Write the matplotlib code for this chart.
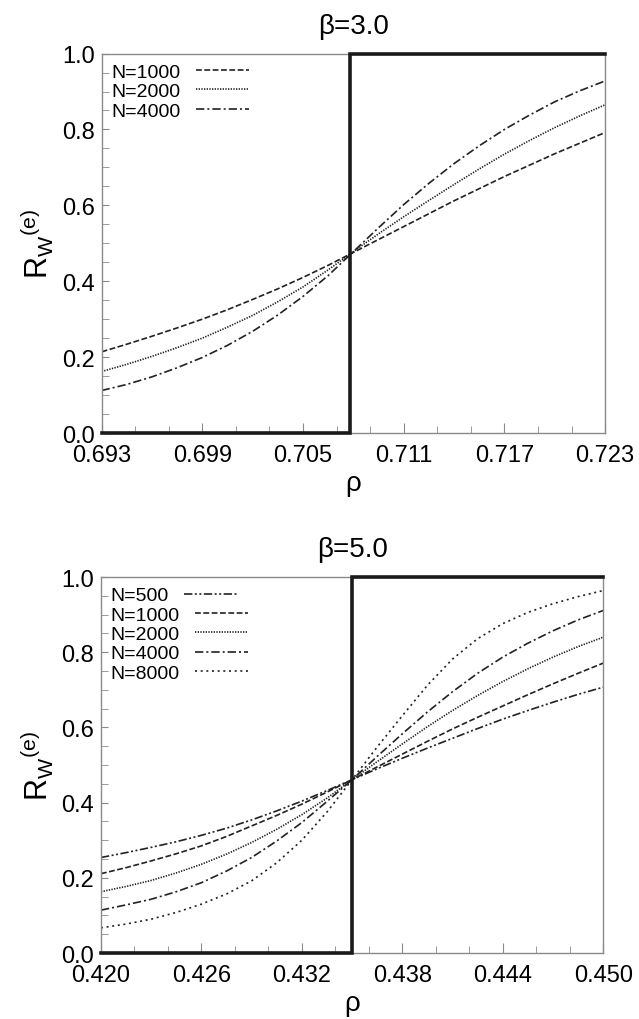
import matplotlib
matplotlib.use("Agg")
import matplotlib.pyplot as plt
from matplotlib.ticker import FixedLocator, MultipleLocator, FormatStrFormatter

plt.rcParams["font.family"] = ["Liberation Sans", "DejaVu Sans"]
plt.rcParams["mathtext.fontset"] = "custom"
plt.rcParams["mathtext.rm"] = "Liberation Sans"
plt.rcParams["mathtext.it"] = "Liberation Sans"

# ---- data ----
# beta = 3.0
rho_b3 = [0.693, 0.6945, 0.696, 0.6975, 0.699, 0.7005, 0.702, 0.7035, 0.705, 0.7065, 0.708,
          0.7095, 0.711, 0.7125, 0.714, 0.7155, 0.717, 0.7185, 0.720, 0.7215, 0.723]
r_b3_n1000 = [0.214, 0.234, 0.255, 0.277, 0.300, 0.325, 0.352, 0.380, 0.410, 0.442, 0.476,
              0.510, 0.544, 0.578, 0.612, 0.644, 0.676, 0.706, 0.736, 0.764, 0.792]
r_b3_n2000 = [0.162, 0.181, 0.202, 0.225, 0.250, 0.279, 0.310, 0.346, 0.385, 0.430, 0.478,
              0.525, 0.570, 0.613, 0.655, 0.696, 0.735, 0.771, 0.805, 0.836, 0.865]
r_b3_n4000 = [0.112, 0.128, 0.148, 0.172, 0.199, 0.231, 0.268, 0.311, 0.360, 0.415, 0.478,
              0.541, 0.602, 0.658, 0.710, 0.757, 0.800, 0.838, 0.873, 0.902, 0.928]
step_b3 = 0.7078
xticks_b3 = [0.693, 0.699, 0.705, 0.711, 0.717, 0.723]

# beta = 5.0
rho_b5 = [0.420, 0.4215, 0.423, 0.4245, 0.426, 0.4275, 0.429, 0.4305, 0.432, 0.4335, 0.435,
          0.4365, 0.438, 0.4395, 0.441, 0.4425, 0.444, 0.4455, 0.447, 0.4485, 0.450]
r_b5_n500 = [0.254, 0.267, 0.281, 0.296, 0.313, 0.332, 0.354, 0.378, 0.404, 0.432, 0.461,
             0.490, 0.518, 0.545, 0.571, 0.597, 0.622, 0.645, 0.667, 0.688, 0.707]
r_b5_n1000 = [0.211, 0.227, 0.245, 0.264, 0.285, 0.310, 0.338, 0.366, 0.396, 0.428, 0.461,
              0.495, 0.529, 0.563, 0.596, 0.627, 0.657, 0.687, 0.716, 0.744, 0.771]
r_b5_n2000 = [0.163, 0.177, 0.193, 0.213, 0.236, 0.263, 0.294, 0.329, 0.368, 0.412, 0.461,
              0.509, 0.556, 0.602, 0.645, 0.685, 0.722, 0.756, 0.787, 0.815, 0.840]
r_b5_n4000 = [0.114, 0.128, 0.143, 0.163, 0.187, 0.218, 0.254, 0.298, 0.347, 0.403, 0.461,
              0.523, 0.583, 0.641, 0.695, 0.744, 0.787, 0.824, 0.857, 0.886, 0.911]
r_b5_n8000 = [0.067, 0.077, 0.090, 0.108, 0.130, 0.157, 0.192, 0.240, 0.300, 0.375, 0.461,
              0.548, 0.631, 0.712, 0.782, 0.836, 0.876, 0.906, 0.929, 0.948, 0.964]
step_b5 = 0.435
xticks_b5 = [0.420, 0.426, 0.432, 0.438, 0.444, 0.450]

STYLES = {
    "N=500": (0, (5, 1.5, 1.2, 1.5, 1.2, 1.5)),
    "N=1000": (0, (3.5, 1.5)),
    "N=2000": (0, (0.8, 0.8)),
    "N=4000": (0, (5, 1.8, 1.2, 1.8)),
    "N=8000": (0, (1.2, 2.2)),
}
LINE_COLOR = "#222222"
SPINE_COLOR = "#8a8a8a"


def style_axes(ax, rho, xticks):
    ax.set_xlim(rho[0], rho[-1])
    ax.set_ylim(0.0, 1.0)
    ax.xaxis.set_major_locator(FixedLocator(xticks))
    ax.xaxis.set_minor_locator(MultipleLocator(0.002, offset=xticks[0] % 0.002))
    ax.xaxis.set_major_formatter(FormatStrFormatter("%.3f"))
    ax.yaxis.set_major_locator(MultipleLocator(0.2))
    ax.yaxis.set_minor_locator(MultipleLocator(0.05))
    ax.yaxis.set_major_formatter(FormatStrFormatter("%.1f"))
    ax.tick_params(which="both", direction="in", top=False, right=False,
                   color=SPINE_COLOR, labelsize=17)
    ax.tick_params(axis="x", which="major", length=7, pad=8)
    ax.tick_params(axis="x", which="minor", length=5)
    ax.tick_params(axis="y", which="both", length=5, pad=5)
    for spine in ax.spines.values():
        spine.set_color(SPINE_COLOR)
        spine.set_linewidth(1.0)
    ax.set_xlabel("ρ", fontsize=20, labelpad=3)
    ax.set_ylabel(r"$\mathregular{R_W{}^{(e)}}$", fontsize=22, labelpad=4)


def draw_step(ax, rho, step):
    ax.plot([rho[0], step, step, rho[-1]], [0.0, 0.0, 1.0, 1.0],
            color="#1a1a1a", linewidth=2.6, solid_joinstyle="miter",
            clip_on=False, zorder=5)


def add_legend(ax):
    leg = ax.legend(loc="upper left", bbox_to_anchor=(0.0, 1.0), frameon=False,
                    markerfirst=False, fontsize=14, handlelength=2.7,
                    handletextpad=0.8, labelspacing=0.09,
                    borderaxespad=0.3, borderpad=0.2)
    # keep the labels flush left, handles after them
    for column in leg._legend_handle_box.get_children():
        column.align = "left"
    return leg


fig = plt.figure(figsize=(6.39, 10.2), dpi=100)

ax1 = fig.add_axes([0.159, 0.5745, 0.788, 0.372])
for label, vals in [("N=1000", r_b3_n1000), ("N=2000", r_b3_n2000), ("N=4000", r_b3_n4000)]:
    ax1.plot(rho_b3, vals, color=LINE_COLOR, linestyle=STYLES[label], linewidth=1.2, label=label)
draw_step(ax1, rho_b3, step_b3)
style_axes(ax1, rho_b3, xticks_b3)
ax1.set_title("β=3.0", fontsize=20, pad=15)
add_legend(ax1)

ax2 = fig.add_axes([0.158, 0.0647, 0.786, 0.3686])
for label, vals in [("N=500", r_b5_n500), ("N=1000", r_b5_n1000), ("N=2000", r_b5_n2000),
                    ("N=4000", r_b5_n4000), ("N=8000", r_b5_n8000)]:
    ax2.plot(rho_b5, vals, color=LINE_COLOR, linestyle=STYLES[label], linewidth=1.2, label=label)
draw_step(ax2, rho_b5, step_b5)
style_axes(ax2, rho_b5, xticks_b5)
ax2.set_title("β=5.0", fontsize=20, pad=15)
add_legend(ax2)

fig.savefig("out.png", dpi=100, facecolor="white")
